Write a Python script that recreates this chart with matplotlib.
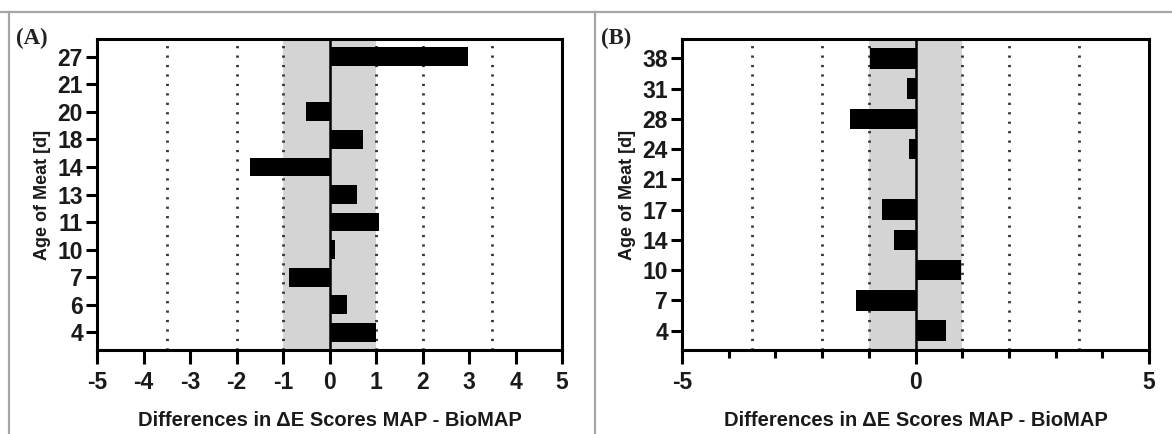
import matplotlib
matplotlib.use("Agg")
import matplotlib.pyplot as plt
from matplotlib.lines import Line2D
from matplotlib.ticker import MultipleLocator, FixedLocator

# ---- data ----
ages_a = ["4", "6", "7", "10", "11", "13", "14", "18", "20", "21", "27"]
diff_a = [1.01, 0.38, -0.88, 0.12, 1.06, 0.60, -1.70, 0.73, -0.50, 0.0, 2.97]

ages_b = ["4", "7", "10", "14", "17", "21", "24", "28", "31", "38"]
diff_b = [0.66, -1.27, 0.97, -0.47, -0.72, 0.04, -0.13, -1.41, -0.18, -0.97]

ref_lines = [-3.5, -2, -1, 1, 2, 3.5]
band = (-1, 1)
xlabel = "Differences in \u0394E Scores MAP - BioMAP"
ylabel = "Age of Meat [d]"

plt.rcParams['font.family'] = ['Liberation Sans', 'DejaVu Sans']

W, H = 1172, 434
fig = plt.figure(figsize=(W / 100, H / 100), dpi=100)
fig.patch.set_facecolor("white")

def fx(px):
    return px / W

def fy(py):
    return 1 - py / H

# frame lines
frame_col = "#a6a6a6"
fig.add_artist(Line2D([0, 1], [fy(12), fy(12)], transform=fig.transFigure, color=frame_col, lw=1.6))
fig.add_artist(Line2D([fx(9), fx(9)], [fy(12), 0], transform=fig.transFigure, color=frame_col, lw=1.6))
fig.add_artist(Line2D([fx(595), fx(595)], [fy(12), 0], transform=fig.transFigure, color=frame_col, lw=1.6))

def panel(left_px, right_px, cats, vals, letter, letter_x, minor_b):
    ax = fig.add_axes([fx(left_px), fy(350), fx(right_px - left_px), (350 - 39) / H])
    n = len(cats)
    pos = list(range(n))
    ax.axvspan(band[0], band[1], color="#d4d4d4", zorder=0, lw=0)
    for r in ref_lines:
        ax.axvline(r, color="#333333", lw=2.0, ls=(0, (0.8, 2.6)), zorder=1)
    ax.barh(pos, vals, height=0.68, color="black", zorder=3)
    ax.axvline(0, color="black", lw=1.8, zorder=4)
    ax.set_xlim(-5, 5)
    ax.set_ylim(-0.64, n - 1 + 0.64)
    ax.set_yticks(pos)
    ax.set_yticklabels(cats, fontsize=16.5, fontweight="bold", color="#1a1a1a")
    if minor_b:
        ax.xaxis.set_major_locator(FixedLocator([-5, 0, 5]))
        ax.xaxis.set_minor_locator(MultipleLocator(1))
        ax.tick_params(axis="x", which="minor", length=6, width=2.2)
    else:
        ax.xaxis.set_major_locator(MultipleLocator(1))
    ax.set_xticklabels([str(int(t)) for t in ax.get_xticks()], fontsize=16.5,
                       fontweight="bold", color="#1a1a1a")
    ax.tick_params(axis="x", which="major", length=10, width=2.2, pad=5)
    ax.tick_params(axis="y", which="major", length=8, width=2.2, pad=2)
    for s in ax.spines.values():
        s.set_linewidth(2.2)
    ax.set_xlabel(xlabel, fontsize=14.5, fontweight="bold", labelpad=12, color="#1a1a1a")
    ax.set_ylabel(ylabel, fontsize=13, fontweight="bold", labelpad=5, color="#1a1a1a")
    fig.text(fx(letter_x), fy(38), letter, fontsize=16.5, family=["Liberation Serif"],
             fontweight="bold", ha="left", va="center", color="#222222")
    return ax

axA = panel(97, 562, ages_a, diff_a, "(A)", 16, False)
axB = panel(682, 1149, ages_b, diff_b, "(B)", 601, True)

fig.savefig("out.png", dpi=100, facecolor="white")
